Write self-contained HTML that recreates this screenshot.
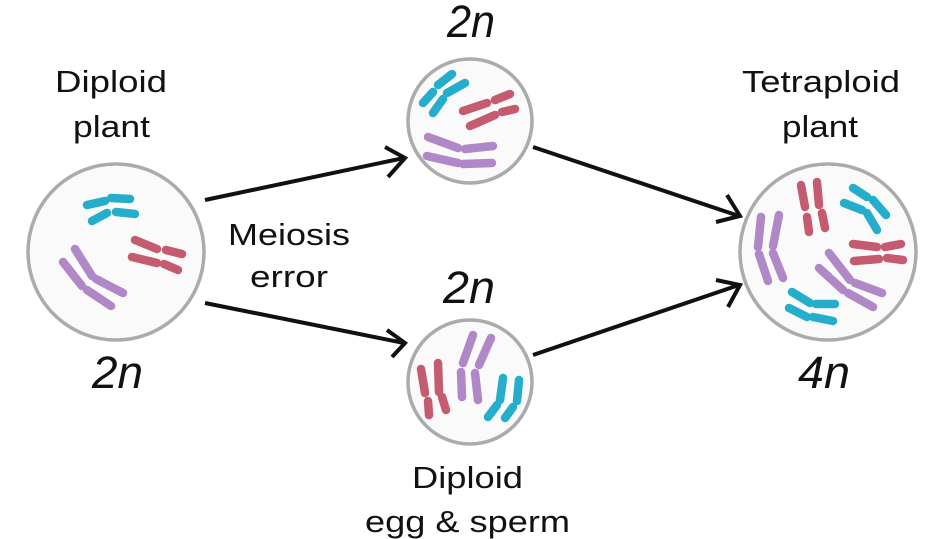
<!DOCTYPE html>
<html>
<head>
<meta charset="utf-8">
<style>
html,body{margin:0;padding:0;background:#fff;}
svg{display:block;}
text{font-family:"Liberation Sans",sans-serif;fill:#111;}
</style>
</head>
<body>
<svg width="951" height="539" viewBox="0 0 951 539" xmlns="http://www.w3.org/2000/svg">
<rect width="951" height="539" fill="#fff"/>

<!-- circles -->
<g fill="#fafafa" stroke="#ababab" stroke-width="3.5">
<circle cx="116" cy="252" r="88"/>
<circle cx="470" cy="121" r="62"/>
<circle cx="470" cy="382" r="62"/>
<circle cx="828" cy="252" r="88"/>
</g>

<!-- arrows -->
<g stroke="#111" stroke-width="4" fill="none" stroke-linecap="butt" stroke-linejoin="miter">
<line x1="205" y1="200" x2="404" y2="158"/>
<polyline points="385,147 405,158 388,177"/>
<line x1="205" y1="303" x2="404" y2="343"/>
<polyline points="387,330 405,343 392,357"/>
<line x1="533" y1="147" x2="739" y2="216"/>
<polyline points="727,195 740,216 716,222"/>
<line x1="533" y1="355" x2="739" y2="285"/>
<polyline points="716,280 740,285 728,307"/>
</g>

<!-- chromosomes -->
<g stroke-width="8.5" stroke-linecap="round" fill="none">
<!-- left circle -->
<g stroke="#25aecb">
<line x1="87" y1="205" x2="105" y2="201"/>
<line x1="111" y1="198" x2="130" y2="199"/>
<line x1="92" y1="221" x2="107" y2="213"/>
<line x1="116" y1="212" x2="135" y2="214"/>
</g>
<g stroke="#c55b6f">
<line x1="135" y1="240" x2="157" y2="249"/>
<line x1="166" y1="250" x2="182" y2="254"/>
<line x1="132" y1="257" x2="157" y2="263"/>
<line x1="164" y1="264" x2="178" y2="270"/>
</g>
<g stroke="#b088c8">
<line x1="75" y1="249" x2="92" y2="276"/>
<line x1="96" y1="279" x2="123" y2="293"/>
<line x1="63" y1="262" x2="82" y2="286"/>
<line x1="87" y1="290" x2="111" y2="306"/>
</g>

<!-- top middle circle -->
<g stroke="#25aecb">
<line x1="423" y1="103" x2="433" y2="92"/>
<line x1="438" y1="85" x2="452" y2="74"/>
<line x1="447" y1="93" x2="465" y2="83"/>
<line x1="433" y1="113" x2="443" y2="99"/>
</g>
<g stroke="#c55b6f">
<line x1="463" y1="111" x2="487" y2="103"/>
<line x1="495" y1="100" x2="510" y2="94"/>
<line x1="470" y1="126" x2="495" y2="115"/>
<line x1="502" y1="112" x2="515" y2="109"/>
</g>
<g stroke="#b088c8">
<line x1="428" y1="137" x2="458" y2="148"/>
<line x1="465" y1="149" x2="493" y2="146"/>
<line x1="427" y1="156" x2="458" y2="163"/>
<line x1="463" y1="164" x2="492" y2="163"/>
</g>

<!-- bottom middle circle -->
<g stroke="#c55b6f">
<line x1="421" y1="369" x2="425" y2="393"/>
<line x1="428" y1="401" x2="429" y2="415"/>
<line x1="438" y1="363" x2="439" y2="392"/>
<line x1="442" y1="397" x2="446" y2="410"/>
</g>
<g stroke="#b088c8">
<line x1="473" y1="335" x2="463" y2="363"/>
<line x1="461" y1="372" x2="462" y2="397"/>
<line x1="491" y1="338" x2="479" y2="365"/>
<line x1="475" y1="373" x2="478" y2="400"/>
</g>
<g stroke="#25aecb">
<line x1="503" y1="378" x2="500" y2="400"/>
<line x1="497" y1="405" x2="488" y2="417"/>
<line x1="519" y1="380" x2="517" y2="401"/>
<line x1="513" y1="407" x2="505" y2="418"/>
</g>

<!-- right circle -->
<g stroke="#c55b6f">
<line x1="801" y1="185" x2="805" y2="207"/>
<line x1="807" y1="217" x2="809" y2="232"/>
<line x1="817" y1="182" x2="819" y2="205"/>
<line x1="822" y1="213" x2="825" y2="228"/>
<line x1="853" y1="244" x2="877" y2="247"/>
<line x1="885" y1="247" x2="901" y2="244"/>
<line x1="854" y1="261" x2="879" y2="259"/>
<line x1="887" y1="258" x2="903" y2="260"/>
</g>
<g stroke="#25aecb">
<line x1="853" y1="188" x2="867" y2="197"/>
<line x1="873" y1="200" x2="886" y2="215"/>
<line x1="844" y1="203" x2="862" y2="210"/>
<line x1="867" y1="213" x2="877" y2="230"/>
<line x1="792" y1="292" x2="810" y2="303"/>
<line x1="816" y1="304" x2="835" y2="304"/>
<line x1="789" y1="308" x2="807" y2="317"/>
<line x1="813" y1="317" x2="833" y2="321"/>
</g>
<g stroke="#b088c8">
<line x1="761" y1="217" x2="758" y2="247"/>
<line x1="759" y1="254" x2="768" y2="281"/>
<line x1="779" y1="215" x2="773" y2="246"/>
<line x1="773" y1="253" x2="783" y2="278"/>
<line x1="829" y1="253" x2="850" y2="280"/>
<line x1="855" y1="283" x2="882" y2="293"/>
<line x1="819" y1="268" x2="843" y2="290"/>
<line x1="848" y1="293" x2="873" y2="307"/>
</g>
</g>

<!-- labels -->
<g font-size="31">
<text x="55" y="92" textLength="112" lengthAdjust="spacingAndGlyphs">Diploid</text>
<text x="73" y="137" textLength="77" lengthAdjust="spacingAndGlyphs">plant</text>
<text x="742" y="92" textLength="158" lengthAdjust="spacingAndGlyphs">Tetraploid</text>
<text x="782" y="137" textLength="76" lengthAdjust="spacingAndGlyphs">plant</text>
<text x="228" y="245" textLength="122" lengthAdjust="spacingAndGlyphs">Meiosis</text>
<text x="250" y="287" textLength="78" lengthAdjust="spacingAndGlyphs">error</text>
<text x="412" y="488" textLength="111" lengthAdjust="spacingAndGlyphs">Diploid</text>
<text x="365" y="532" textLength="205" lengthAdjust="spacingAndGlyphs">egg &amp; sperm</text>
</g>
<g font-size="45" font-style="italic">
<text x="447" y="37" textLength="48" lengthAdjust="spacingAndGlyphs">2n</text>
<text x="443" y="303" textLength="52" lengthAdjust="spacingAndGlyphs">2n</text>
<text x="92" y="388" textLength="51" lengthAdjust="spacingAndGlyphs">2n</text>
<text x="798" y="388" textLength="52" lengthAdjust="spacingAndGlyphs">4n</text>
</g>
</svg>
</body>
</html>
